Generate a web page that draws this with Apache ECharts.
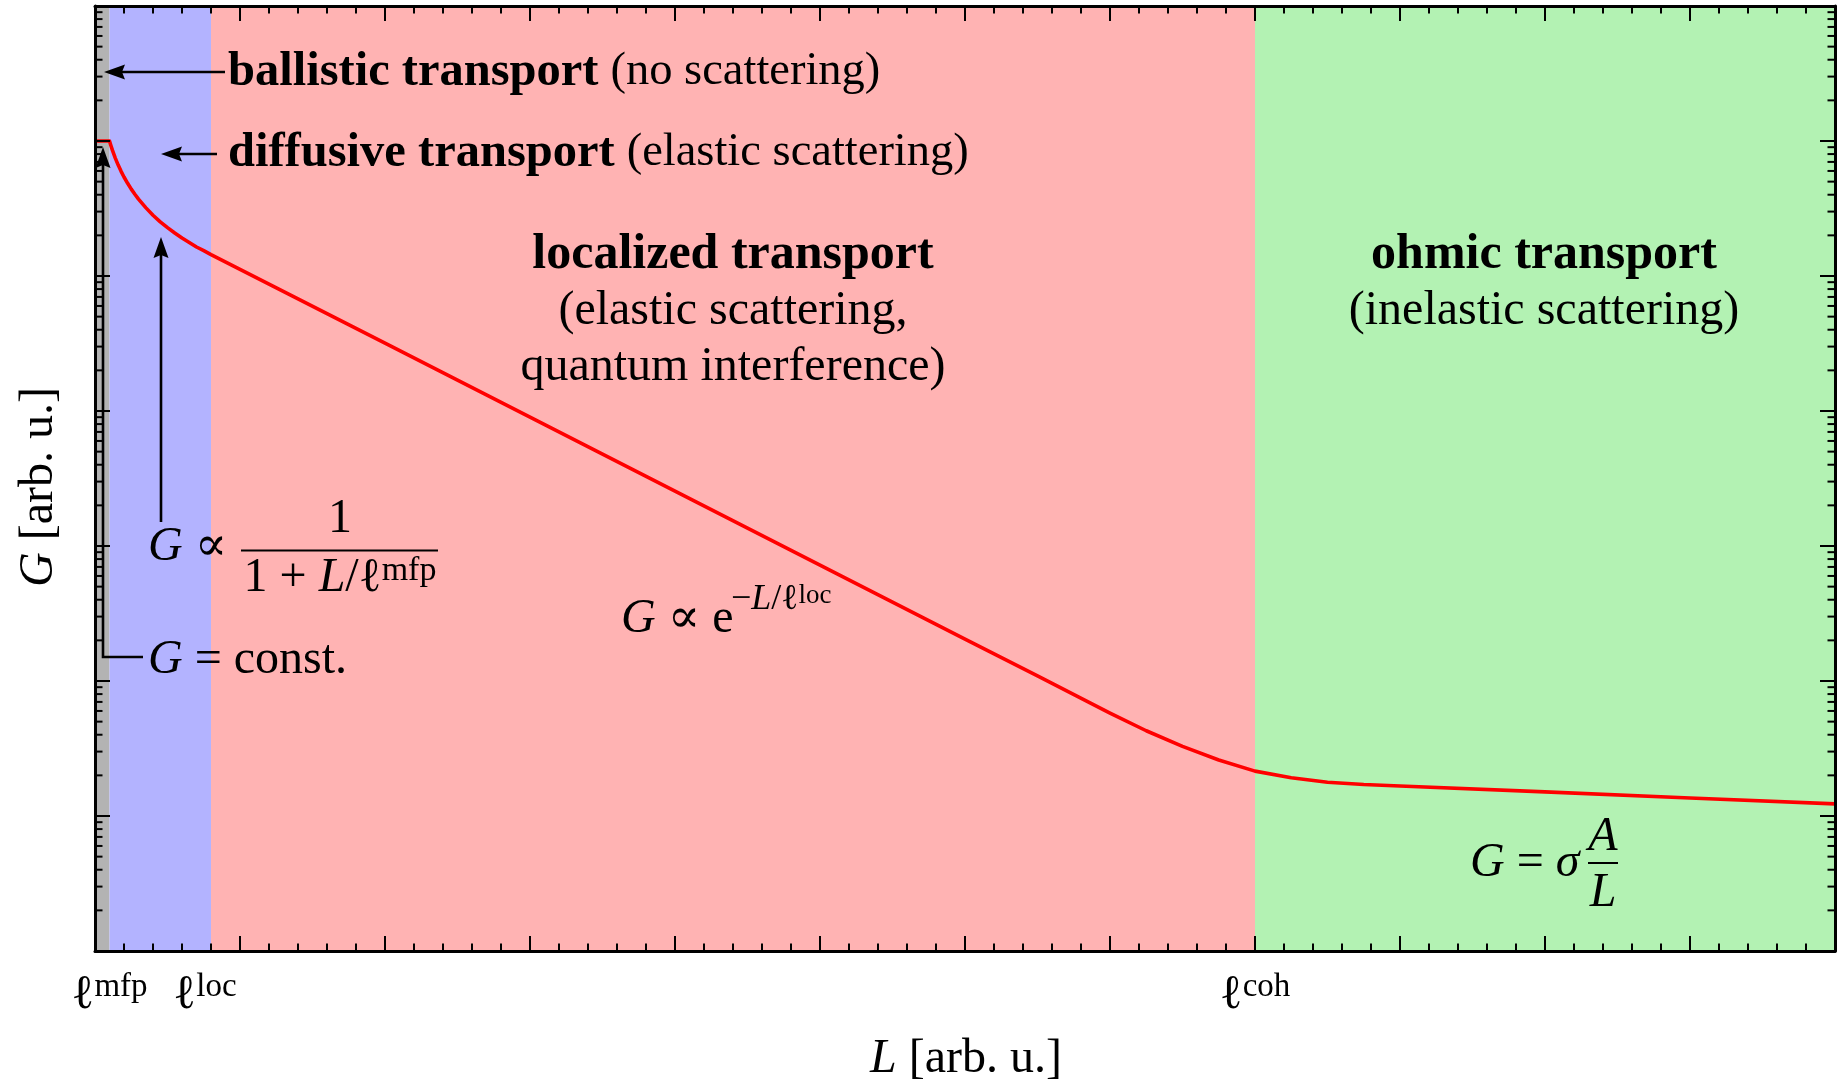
<!DOCTYPE html>
<html>
<head>
<meta charset="utf-8">
<script src="https://cdn.jsdelivr.net/npm/echarts@6/dist/echarts.min.js"></script>
<style>
html,body{margin:0;padding:0;background:#fff;}
#c{width:1837px;height:1080px;}
</style>
</head>
<body>
<div id="c"></div>
<script>
// ---- data ----
const lengthL = [0, 0.1, 0.11, 0.12, 0.14, 0.16, 0.18, 0.2, 0.225, 0.25, 0.275, 0.3, 0.35, 0.4, 0.45, 0.5,
  0.55, 0.6, 0.65, 0.7, 0.75, 0.8,
  1, 2, 3, 4, 5, 6, 6.5, 7, 7.25, 7.5, 7.75, 8, 8.25, 8.5, 8.75, 9, 10, 11, 12];
const conductanceG = [1, 1, 0.922, 0.855, 0.747, 0.663, 0.596, 0.541, 0.486, 0.440, 0.403, 0.371, 0.321, 0.282, 0.252, 0.228,
  0.208, 0.191, 0.177, 0.164, 0.154, 0.144,
  0.112, 0.0318, 0.00900, 0.00255, 0.000722, 0.000204, 0.000109, 0.0000578, 0.0000428, 0.0000328, 0.0000260,
  0.0000215, 0.0000192, 0.0000178, 0.0000171, 0.0000167, 0.0000151, 0.0000136, 0.0000123];
const regionStart = [0, 0.1, 0.8, 8];
const regionEnd = [0.1, 0.8, 8, 12];
const xTickLabelValues = [0.1, 0.8, 8];
const xTickLabelSup = ['mfp', 'loc', 'coh'];
const yDecades = [-6, -5, -4, -3, -2, -1, 0];
const yMinorMultipliers = [2, 3, 4, 5, 6, 7, 8, 9];

// ---- styles ----
const regionColors = ['#b3b3b3', '#b3b3ff', '#ffb3b3', '#b3f2b3'];
const SERIF = '"Liberation Serif", "DejaVu Serif", serif';
const FS = 48;

const minorY = [];
yDecades.forEach(d => yMinorMultipliers.forEach(k => minorY.push(k * Math.pow(10, d))));

const rich = {
  n: {fontFamily: SERIF, fontSize: FS, fill: '#000', color: '#000'},
  n2: {fontFamily: SERIF, fontSize: 46.5, fill: '#000', color: '#000'},
  i: {fontFamily: SERIF, fontSize: FS, fontStyle: 'italic', fill: '#000', color: '#000'},
  b: {fontFamily: SERIF, fontSize: 50, fontWeight: 'bold', fill: '#000', color: '#000'},
  b2: {fontFamily: SERIF, fontSize: 48.5, fontWeight: 'bold', fill: '#000', color: '#000'},
  s: {fontFamily: SERIF, fontSize: 34, verticalAlign: 'top', fill: '#000', color: '#000'},
  si: {fontFamily: SERIF, fontSize: 36, fontStyle: 'italic', fill: '#000', color: '#000'},
  sn: {fontFamily: SERIF, fontSize: 36, fill: '#000', color: '#000'},
  ss: {fontFamily: SERIF, fontSize: 27, verticalAlign: 'top', fill: '#000', color: '#000'}
};

function txt(x, y, text, align, extra) {
  return {
    type: 'text', x: x, y: y, silent: true, z: 100,
    style: Object.assign({
      text: text, fill: '#000', font: FS + 'px ' + SERIF,
      align: align || 'left', verticalAlign: 'middle',
      textAlign: align || 'left', textVerticalAlign: 'middle',
      rich: rich
    }, extra || {})
  };
}

function arrow(points, len, half) {
  const n = points.length;
  const tip = points[n - 1], prev = points[n - 2];
  let dx = tip[0] - prev[0], dy = tip[1] - prev[1];
  const d = Math.hypot(dx, dy); dx /= d; dy /= d;
  const bx = tip[0] - dx * len, by = tip[1] - dy * len;
  const px = -dy * half, py = dx * half;
  const linePts = points.slice(0, n - 1).concat([[bx + dx * 3, by + dy * 3]]);
  return [
    {type: 'polyline', silent: true, z: 100, shape: {points: linePts},
      style: {stroke: '#000', lineWidth: 2.6, fill: null}},
    {type: 'polygon', silent: true, z: 100,
      shape: {points: [tip, [bx + px, by + py], [bx + dx * 3, by + dy * 3], [bx - px, by - py]]},
      style: {fill: '#000'}}
  ];
}

const graphics = [].concat(
  arrow([[225, 72], [104, 72]], 21, 7.5),
  arrow([[217, 154], [161, 154]], 21, 7.5),
  arrow([[161, 522], [161, 237]], 21, 7.5),
  arrow([[143, 657], [103, 657], [103, 147]], 21, 7.5),
  [
    txt(228, 72, '{b2|ballistic transport} {n2|(no scattering)}'),
    txt(228, 153, '{b2|diffusive transport} {n2|(elastic scattering)}'),
    txt(733, 311, '{b|localized transport}\n{n|(elastic scattering,}\n{n|quantum interference)}', 'center', {lineHeight: 56}),
    txt(1544, 283, '{b|ohmic transport}\n{n|(inelastic scattering)}', 'center', {lineHeight: 56}),
    txt(148, 547, '{i|G} ∝'),
    txt(340, 519, '1', 'center'),
    {type: 'line', silent: true, z: 100, shape: {x1: 241, y1: 550.5, x2: 438, y2: 550.5}, style: {stroke: '#000', lineWidth: 2}},
    txt(340, 578, '1 + {i|L}/ℓ{s|mfp}', 'center'),
    txt(148, 660, '{i|G} = const.'),
    txt(621, 619, '{i|G} ∝ e'),
    txt(731, 600, '−{si|L}{sn|/ℓ}{ss|loc}', 'left', {font: '36px ' + SERIF}),
    txt(1470, 863, '{i|G} = {i|σ}'),
    txt(1603, 837, '{i|A}', 'center'),
    {type: 'line', silent: true, z: 100, shape: {x1: 1588, y1: 863, x2: 1618, y2: 863}, style: {stroke: '#000', lineWidth: 2}},
    txt(1603, 893, '{i|L}', 'center'),
    txt(966, 1059, '{i|L} [arb. u.]', 'center'),
    Object.assign(txt(39, 487, '{i|G} [arb. u.]', 'center'), {rotation: Math.PI / 2})
  ]
);

const axisLineStyle = {show: true, onZero: false, lineStyle: {color: '#000', width: 3}};
const tickStyle = {show: true, inside: true, length: 15, lineStyle: {color: '#000', width: 2}};

const chart = echarts.init(document.getElementById('c'), null, {renderer: 'canvas'});
chart.setOption({
  animation: false,
  backgroundColor: '#fff',
  grid: {left: 95, top: 6, right: 2, bottom: 129, containLabel: false},
  xAxis: [
    {
      type: 'value', min: 0, max: 12, interval: 1, position: 'bottom', z: 10,
      axisLine: axisLineStyle, axisTick: tickStyle,
      minorTick: {show: true, splitNumber: 5, length: 7.5, lineStyle: {color: '#000', width: 2}},
      splitLine: {show: false}, minorSplitLine: {show: false},
      axisLabel: {
        show: true, customValues: xTickLabelValues, margin: 20,
        formatter: function (v) {
          let idx = 0;
          xTickLabelValues.forEach((t, k) => { if (Math.abs(t - v) < 1e-9) idx = k; });
          return '{l|ℓ}{s' + idx + '|' + xTickLabelSup[idx] + '}';
        },
        rich: {
          l: {fontFamily: SERIF, fontSize: FS, color: '#000'},
          s0: {fontFamily: SERIF, fontSize: 33, color: '#000', verticalAlign: 'top'},
          s1: {fontFamily: SERIF, fontSize: 33, color: '#000', verticalAlign: 'top', padding: [0, 12, 0, 0]},
          s2: {fontFamily: SERIF, fontSize: 33, color: '#000', verticalAlign: 'top'}
        }
      }
    },
    {
      type: 'value', min: 0, max: 12, interval: 1, position: 'top', z: 10,
      axisLine: axisLineStyle, axisTick: tickStyle,
      minorTick: {show: true, splitNumber: 5, length: 7.5, lineStyle: {color: '#000', width: 2}},
      splitLine: {show: false}, minorSplitLine: {show: false},
      axisLabel: {show: false}
    }
  ],
  yAxis: [
    {
      type: 'log', logBase: 10, min: 1e-6, max: 10, position: 'left', z: 10,
      axisLine: axisLineStyle, axisTick: tickStyle,
      splitLine: {show: false}, axisLabel: {show: false}
    },
    {
      type: 'log', logBase: 10, min: 1e-6, max: 10, position: 'right', z: 10,
      axisLine: axisLineStyle, axisTick: tickStyle,
      splitLine: {show: false}, axisLabel: {show: false}
    }
  ],
  series: [
    {
      type: 'custom', name: 'regions', z: 1, silent: true, clip: false,
      encode: {x: [0, 1], y: 2},
      data: regionStart.map((s, i) => [s, regionEnd[i], 1, i]),
      renderItem: function (params, api) {
        const p0 = api.coord([api.value(0), 10]);
        const p1 = api.coord([api.value(1), 1e-6]);
        return {
          type: 'rect',
          shape: {x: p0[0], y: p0[1], width: p1[0] - p0[0], height: p1[1] - p0[1]},
          style: {fill: regionColors[api.value(3)]}
        };
      }
    },
    {
      type: 'custom', name: 'yMinorTicks', z: 8, silent: true, clip: false,
      encode: {x: 0, y: 1},
      data: minorY.map(v => [0, v]),
      renderItem: function (params, api) {
        const v = api.value(1);
        const pl = api.coord([0, v]);
        const pr = api.coord([12, v]);
        return {
          type: 'group',
          children: [
            {type: 'line', shape: {x1: pl[0], y1: pl[1], x2: pl[0] + 7.5, y2: pl[1]}, style: {stroke: '#000', lineWidth: 2}},
            {type: 'line', shape: {x1: pr[0], y1: pr[1], x2: pr[0] - 7.5, y2: pr[1]}, style: {stroke: '#000', lineWidth: 2}}
          ]
        };
      }
    },
    {
      type: 'line', name: 'G', z: 5, silent: true,
      data: lengthL.map((x, i) => [x, conductanceG[i]]),
      symbol: 'none', showSymbol: false, smooth: false,
      lineStyle: {color: '#ff0000', width: 3.6, join: 'round'}
    }
  ],
  graphic: graphics
});
</script>
</body>
</html>
